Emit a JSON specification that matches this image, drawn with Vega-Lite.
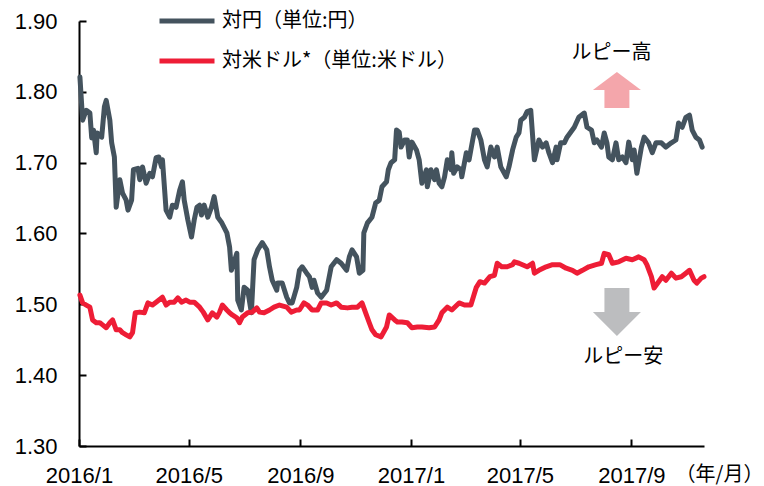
{
  "$schema": "https://vega.github.io/schema/vega-lite/v6.json",
  "width": 625,
  "height": 425,
  "autosize": {"type": "none"},
  "padding": {"left": 79, "top": 21, "right": 60, "bottom": 40},
  "background": "white",
  "config": {
    "view": {"stroke": null},
    "axis": {
      "labelFont": "Liberation Sans",
      "labelFontSize": 22,
      "labelColor": "black",
      "domainColor": "black",
      "domainWidth": 2,
      "tickColor": "black",
      "tickWidth": 2,
      "tickSize": -7,
      "grid": false
    },
    "legend": {
      "orient": "none",
      "legendX": 78,
      "legendY": -30,
      "padding": 0,
      "symbolType": "stroke",
      "symbolSize": 3025,
      "symbolStrokeWidth": 5,
      "labelFont": "Noto Sans CJK JP",
      "labelFontSize": 20,
      "labelColor": "black",
      "labelLimit": 400,
      "labelOffset": 5,
      "rowPadding": -13
    }
  },
  "datasets": {
    "yen": [
      {"date": "2016-01-02", "value": 1.821}, {"date": "2016-01-05", "value": 1.760}, {"date": "2016-01-09", "value": 1.774}, {"date": "2016-01-13", "value": 1.770},
      {"date": "2016-01-15", "value": 1.735}, {"date": "2016-01-17", "value": 1.746}, {"date": "2016-01-20", "value": 1.714}, {"date": "2016-01-21", "value": 1.742},
      {"date": "2016-01-26", "value": 1.736}, {"date": "2016-01-27", "value": 1.750}, {"date": "2016-01-29", "value": 1.779}, {"date": "2016-01-31", "value": 1.788},
      {"date": "2016-02-04", "value": 1.760}, {"date": "2016-02-06", "value": 1.728}, {"date": "2016-02-09", "value": 1.708}, {"date": "2016-02-11", "value": 1.637},
      {"date": "2016-02-15", "value": 1.676}, {"date": "2016-02-18", "value": 1.657}, {"date": "2016-02-22", "value": 1.647}, {"date": "2016-02-24", "value": 1.633},
      {"date": "2016-02-28", "value": 1.647}, {"date": "2016-03-01", "value": 1.690}, {"date": "2016-03-06", "value": 1.692}, {"date": "2016-03-08", "value": 1.676},
      {"date": "2016-03-11", "value": 1.694}, {"date": "2016-03-15", "value": 1.671}, {"date": "2016-03-19", "value": 1.685}, {"date": "2016-03-22", "value": 1.680},
      {"date": "2016-03-26", "value": 1.707}, {"date": "2016-03-29", "value": 1.708}, {"date": "2016-04-01", "value": 1.694}, {"date": "2016-04-02", "value": 1.704},
      {"date": "2016-04-06", "value": 1.633}, {"date": "2016-04-10", "value": 1.623}, {"date": "2016-04-13", "value": 1.640}, {"date": "2016-04-17", "value": 1.637},
      {"date": "2016-04-21", "value": 1.661}, {"date": "2016-04-24", "value": 1.673}, {"date": "2016-04-26", "value": 1.647}, {"date": "2016-04-30", "value": 1.619},
      {"date": "2016-05-04", "value": 1.595}, {"date": "2016-05-07", "value": 1.619}, {"date": "2016-05-10", "value": 1.637}, {"date": "2016-05-13", "value": 1.640},
      {"date": "2016-05-15", "value": 1.626}, {"date": "2016-05-18", "value": 1.640}, {"date": "2016-05-22", "value": 1.623}, {"date": "2016-05-26", "value": 1.637},
      {"date": "2016-05-29", "value": 1.652}, {"date": "2016-06-02", "value": 1.623}, {"date": "2016-06-06", "value": 1.616}, {"date": "2016-06-12", "value": 1.601},
      {"date": "2016-06-15", "value": 1.581}, {"date": "2016-06-17", "value": 1.548}, {"date": "2016-06-23", "value": 1.572}, {"date": "2016-06-24", "value": 1.506},
      {"date": "2016-06-28", "value": 1.492}, {"date": "2016-07-01", "value": 1.524}, {"date": "2016-07-05", "value": 1.520}, {"date": "2016-07-09", "value": 1.488},
      {"date": "2016-07-12", "value": 1.563}, {"date": "2016-07-16", "value": 1.577}, {"date": "2016-07-21", "value": 1.587}, {"date": "2016-07-26", "value": 1.577},
      {"date": "2016-07-29", "value": 1.553}, {"date": "2016-08-01", "value": 1.534}, {"date": "2016-08-06", "value": 1.520}, {"date": "2016-08-07", "value": 1.530},
      {"date": "2016-08-12", "value": 1.530}, {"date": "2016-08-17", "value": 1.510}, {"date": "2016-08-20", "value": 1.502}, {"date": "2016-08-23", "value": 1.502},
      {"date": "2016-08-28", "value": 1.524}, {"date": "2016-08-31", "value": 1.548}, {"date": "2016-09-03", "value": 1.553}, {"date": "2016-09-08", "value": 1.544},
      {"date": "2016-09-11", "value": 1.539}, {"date": "2016-09-14", "value": 1.524}, {"date": "2016-09-16", "value": 1.534}, {"date": "2016-09-20", "value": 1.516},
      {"date": "2016-09-24", "value": 1.510}, {"date": "2016-09-30", "value": 1.520}, {"date": "2016-10-05", "value": 1.553}, {"date": "2016-10-11", "value": 1.563},
      {"date": "2016-10-16", "value": 1.558}, {"date": "2016-10-22", "value": 1.548}, {"date": "2016-10-25", "value": 1.567}, {"date": "2016-10-28", "value": 1.577},
      {"date": "2016-11-02", "value": 1.567}, {"date": "2016-11-05", "value": 1.544}, {"date": "2016-11-09", "value": 1.548}, {"date": "2016-11-10", "value": 1.601},
      {"date": "2016-11-14", "value": 1.615}, {"date": "2016-11-19", "value": 1.623}, {"date": "2016-11-23", "value": 1.643}, {"date": "2016-11-27", "value": 1.647},
      {"date": "2016-11-30", "value": 1.666}, {"date": "2016-12-05", "value": 1.673}, {"date": "2016-12-07", "value": 1.690}, {"date": "2016-12-10", "value": 1.700},
      {"date": "2016-12-14", "value": 1.704}, {"date": "2016-12-16", "value": 1.746}, {"date": "2016-12-19", "value": 1.743}, {"date": "2016-12-21", "value": 1.722},
      {"date": "2016-12-25", "value": 1.732}, {"date": "2016-12-28", "value": 1.732}, {"date": "2016-12-30", "value": 1.708}, {"date": "2017-01-02", "value": 1.729},
      {"date": "2017-01-07", "value": 1.718}, {"date": "2017-01-10", "value": 1.704}, {"date": "2017-01-13", "value": 1.671}, {"date": "2017-01-18", "value": 1.690},
      {"date": "2017-01-19", "value": 1.666}, {"date": "2017-01-23", "value": 1.690}, {"date": "2017-01-27", "value": 1.676}, {"date": "2017-01-29", "value": 1.690},
      {"date": "2017-02-01", "value": 1.671}, {"date": "2017-02-04", "value": 1.666}, {"date": "2017-02-07", "value": 1.680}, {"date": "2017-02-10", "value": 1.704},
      {"date": "2017-02-14", "value": 1.690}, {"date": "2017-02-15", "value": 1.714}, {"date": "2017-02-17", "value": 1.685}, {"date": "2017-02-21", "value": 1.694},
      {"date": "2017-02-25", "value": 1.690}, {"date": "2017-02-26", "value": 1.680}, {"date": "2017-03-03", "value": 1.714}, {"date": "2017-03-06", "value": 1.704},
      {"date": "2017-03-08", "value": 1.718}, {"date": "2017-03-12", "value": 1.746}, {"date": "2017-03-15", "value": 1.746}, {"date": "2017-03-19", "value": 1.732},
      {"date": "2017-03-23", "value": 1.704}, {"date": "2017-03-26", "value": 1.694}, {"date": "2017-03-30", "value": 1.722}, {"date": "2017-04-03", "value": 1.708},
      {"date": "2017-04-06", "value": 1.722}, {"date": "2017-04-10", "value": 1.694}, {"date": "2017-04-16", "value": 1.680}, {"date": "2017-04-19", "value": 1.694},
      {"date": "2017-04-23", "value": 1.718}, {"date": "2017-04-27", "value": 1.736}, {"date": "2017-04-30", "value": 1.742}, {"date": "2017-05-02", "value": 1.760},
      {"date": "2017-05-06", "value": 1.764}, {"date": "2017-05-09", "value": 1.772}, {"date": "2017-05-13", "value": 1.774}, {"date": "2017-05-17", "value": 1.704},
      {"date": "2017-05-22", "value": 1.732}, {"date": "2017-05-26", "value": 1.722}, {"date": "2017-05-30", "value": 1.728}, {"date": "2017-06-02", "value": 1.714},
      {"date": "2017-06-06", "value": 1.700}, {"date": "2017-06-10", "value": 1.722}, {"date": "2017-06-11", "value": 1.704}, {"date": "2017-06-15", "value": 1.728},
      {"date": "2017-06-19", "value": 1.728}, {"date": "2017-06-22", "value": 1.736}, {"date": "2017-06-26", "value": 1.743}, {"date": "2017-06-30", "value": 1.750},
      {"date": "2017-07-05", "value": 1.764}, {"date": "2017-07-11", "value": 1.770}, {"date": "2017-07-14", "value": 1.750}, {"date": "2017-07-19", "value": 1.746},
      {"date": "2017-07-22", "value": 1.728}, {"date": "2017-07-25", "value": 1.732}, {"date": "2017-07-30", "value": 1.722}, {"date": "2017-08-02", "value": 1.742},
      {"date": "2017-08-05", "value": 1.728}, {"date": "2017-08-07", "value": 1.708}, {"date": "2017-08-11", "value": 1.704}, {"date": "2017-08-15", "value": 1.728},
      {"date": "2017-08-18", "value": 1.704}, {"date": "2017-08-22", "value": 1.708}, {"date": "2017-08-26", "value": 1.700}, {"date": "2017-08-29", "value": 1.729},
      {"date": "2017-09-02", "value": 1.704}, {"date": "2017-09-04", "value": 1.718}, {"date": "2017-09-07", "value": 1.685}, {"date": "2017-09-12", "value": 1.722},
      {"date": "2017-09-15", "value": 1.736}, {"date": "2017-09-20", "value": 1.728}, {"date": "2017-09-24", "value": 1.714}, {"date": "2017-09-28", "value": 1.728},
      {"date": "2017-10-04", "value": 1.728}, {"date": "2017-10-09", "value": 1.722}, {"date": "2017-10-15", "value": 1.728}, {"date": "2017-10-20", "value": 1.732},
      {"date": "2017-10-23", "value": 1.756}, {"date": "2017-10-27", "value": 1.750}, {"date": "2017-10-31", "value": 1.764}, {"date": "2017-11-04", "value": 1.767},
      {"date": "2017-11-07", "value": 1.746}, {"date": "2017-11-11", "value": 1.736}, {"date": "2017-11-15", "value": 1.732}, {"date": "2017-11-18", "value": 1.722}
    ],
    "usd": [
      {"date": "2016-01-02", "value": 1.513}, {"date": "2016-01-05", "value": 1.502}, {"date": "2016-01-09", "value": 1.499}, {"date": "2016-01-13", "value": 1.496},
      {"date": "2016-01-16", "value": 1.478}, {"date": "2016-01-20", "value": 1.474}, {"date": "2016-01-24", "value": 1.474}, {"date": "2016-01-27", "value": 1.471},
      {"date": "2016-01-31", "value": 1.467}, {"date": "2016-02-04", "value": 1.474}, {"date": "2016-02-07", "value": 1.478}, {"date": "2016-02-11", "value": 1.464},
      {"date": "2016-02-15", "value": 1.464}, {"date": "2016-02-18", "value": 1.460}, {"date": "2016-02-22", "value": 1.457}, {"date": "2016-02-26", "value": 1.454},
      {"date": "2016-02-29", "value": 1.460}, {"date": "2016-03-03", "value": 1.488}, {"date": "2016-03-08", "value": 1.489}, {"date": "2016-03-13", "value": 1.488},
      {"date": "2016-03-17", "value": 1.502}, {"date": "2016-03-22", "value": 1.499}, {"date": "2016-03-26", "value": 1.503}, {"date": "2016-04-02", "value": 1.510},
      {"date": "2016-04-06", "value": 1.499}, {"date": "2016-04-10", "value": 1.503}, {"date": "2016-04-15", "value": 1.503}, {"date": "2016-04-19", "value": 1.509},
      {"date": "2016-04-23", "value": 1.503}, {"date": "2016-04-28", "value": 1.506}, {"date": "2016-05-02", "value": 1.503}, {"date": "2016-05-07", "value": 1.503},
      {"date": "2016-05-13", "value": 1.496}, {"date": "2016-05-17", "value": 1.489}, {"date": "2016-05-22", "value": 1.478}, {"date": "2016-05-27", "value": 1.488},
      {"date": "2016-06-01", "value": 1.482}, {"date": "2016-06-04", "value": 1.489}, {"date": "2016-06-07", "value": 1.499}, {"date": "2016-06-12", "value": 1.492},
      {"date": "2016-06-15", "value": 1.488}, {"date": "2016-06-18", "value": 1.485}, {"date": "2016-06-23", "value": 1.481}, {"date": "2016-06-26", "value": 1.474},
      {"date": "2016-06-29", "value": 1.482}, {"date": "2016-07-05", "value": 1.488}, {"date": "2016-07-10", "value": 1.489}, {"date": "2016-07-15", "value": 1.495},
      {"date": "2016-07-18", "value": 1.489}, {"date": "2016-07-23", "value": 1.488}, {"date": "2016-07-29", "value": 1.492}, {"date": "2016-08-03", "value": 1.496},
      {"date": "2016-08-09", "value": 1.499}, {"date": "2016-08-17", "value": 1.496}, {"date": "2016-08-22", "value": 1.489}, {"date": "2016-08-28", "value": 1.492},
      {"date": "2016-08-31", "value": 1.492}, {"date": "2016-09-05", "value": 1.502}, {"date": "2016-09-09", "value": 1.499}, {"date": "2016-09-14", "value": 1.492},
      {"date": "2016-09-20", "value": 1.492}, {"date": "2016-09-24", "value": 1.502}, {"date": "2016-09-30", "value": 1.502}, {"date": "2016-10-05", "value": 1.499},
      {"date": "2016-10-11", "value": 1.502}, {"date": "2016-10-16", "value": 1.496}, {"date": "2016-10-23", "value": 1.495}, {"date": "2016-10-28", "value": 1.496},
      {"date": "2016-11-03", "value": 1.496}, {"date": "2016-11-08", "value": 1.502}, {"date": "2016-11-12", "value": 1.488}, {"date": "2016-11-16", "value": 1.474},
      {"date": "2016-11-19", "value": 1.464}, {"date": "2016-11-23", "value": 1.457}, {"date": "2016-11-29", "value": 1.454}, {"date": "2016-12-05", "value": 1.468},
      {"date": "2016-12-08", "value": 1.485}, {"date": "2016-12-14", "value": 1.478}, {"date": "2016-12-17", "value": 1.475}, {"date": "2016-12-22", "value": 1.475},
      {"date": "2016-12-28", "value": 1.474}, {"date": "2017-01-02", "value": 1.467}, {"date": "2017-01-08", "value": 1.468}, {"date": "2017-01-13", "value": 1.468},
      {"date": "2017-01-21", "value": 1.467}, {"date": "2017-01-27", "value": 1.468}, {"date": "2017-02-01", "value": 1.478}, {"date": "2017-02-04", "value": 1.488},
      {"date": "2017-02-10", "value": 1.496}, {"date": "2017-02-15", "value": 1.492}, {"date": "2017-02-23", "value": 1.502}, {"date": "2017-03-01", "value": 1.499},
      {"date": "2017-03-08", "value": 1.499}, {"date": "2017-03-14", "value": 1.524}, {"date": "2017-03-18", "value": 1.532}, {"date": "2017-03-23", "value": 1.530},
      {"date": "2017-03-29", "value": 1.539}, {"date": "2017-04-03", "value": 1.541}, {"date": "2017-04-06", "value": 1.558}, {"date": "2017-04-11", "value": 1.553},
      {"date": "2017-04-17", "value": 1.553}, {"date": "2017-04-23", "value": 1.556}, {"date": "2017-04-25", "value": 1.560}, {"date": "2017-04-30", "value": 1.558},
      {"date": "2017-05-09", "value": 1.553}, {"date": "2017-05-15", "value": 1.558}, {"date": "2017-05-17", "value": 1.544}, {"date": "2017-05-22", "value": 1.548},
      {"date": "2017-05-30", "value": 1.553}, {"date": "2017-06-06", "value": 1.556}, {"date": "2017-06-14", "value": 1.556}, {"date": "2017-06-21", "value": 1.551},
      {"date": "2017-06-28", "value": 1.548}, {"date": "2017-07-03", "value": 1.544}, {"date": "2017-07-09", "value": 1.548}, {"date": "2017-07-16", "value": 1.553},
      {"date": "2017-07-24", "value": 1.556}, {"date": "2017-07-30", "value": 1.558}, {"date": "2017-08-02", "value": 1.572}, {"date": "2017-08-07", "value": 1.570},
      {"date": "2017-08-11", "value": 1.558}, {"date": "2017-08-18", "value": 1.560}, {"date": "2017-08-26", "value": 1.565}, {"date": "2017-09-02", "value": 1.563},
      {"date": "2017-09-09", "value": 1.567}, {"date": "2017-09-15", "value": 1.563}, {"date": "2017-09-18", "value": 1.556}, {"date": "2017-09-23", "value": 1.539},
      {"date": "2017-09-26", "value": 1.523}, {"date": "2017-09-30", "value": 1.530}, {"date": "2017-10-05", "value": 1.539}, {"date": "2017-10-09", "value": 1.534},
      {"date": "2017-10-15", "value": 1.544}, {"date": "2017-10-20", "value": 1.537}, {"date": "2017-10-26", "value": 1.539}, {"date": "2017-10-31", "value": 1.544},
      {"date": "2017-11-04", "value": 1.548}, {"date": "2017-11-09", "value": 1.534}, {"date": "2017-11-12", "value": 1.530}, {"date": "2017-11-17", "value": 1.537},
      {"date": "2017-11-20", "value": 1.539}
    ]
  },
  "layer": [
    {
      "data": {"name": "yen"},
      "mark": {"type": "line", "strokeWidth": 5, "strokeJoin": "round", "strokeCap": "round"},
      "encoding": {
        "x": {
          "field": "date", "type": "temporal",
          "scale": {"type": "utc", "domain": [{"year": 2016, "month": 1, "date": 1, "utc": true}, {"year": 2017, "month": 11, "date": 20, "utc": true}]},
          "axis": {
            "values": [
              {"year": 2016, "month": 1, "date": 1, "utc": true},
              {"year": 2016, "month": 5, "date": 1, "utc": true},
              {"year": 2016, "month": 9, "date": 1, "utc": true},
              {"year": 2017, "month": 1, "date": 1, "utc": true},
              {"year": 2017, "month": 5, "date": 1, "utc": true},
              {"year": 2017, "month": 9, "date": 1, "utc": true}
            ],
            "format": "%Y/%-m",
            "labelFlush": false,
            "labelPadding": 26,
            "title": "（年/月）",
            "titleFont": "Noto Sans CJK JP",
            "titleFontSize": 20,
            "titleFontWeight": "normal",
            "titleColor": "black",
            "titleAlign": "center",
            "titleBaseline": "middle",
            "titleX": 640,
            "titleY": 28
          }
        },
        "y": {
          "field": "value", "type": "quantitative",
          "scale": {"domain": [1.3, 1.9], "nice": false, "zero": false},
          "axis": {"values": [1.3, 1.4, 1.5, 1.6, 1.7, 1.8, 1.9], "format": ".2f", "labelPadding": 29, "title": null}
        },
        "color": {
          "datum": "対円（単位:円）",
          "type": "nominal",
          "scale": {"domain": ["対円（単位:円）", "対米ドル*（単位:米ドル）"], "range": ["#44535e", "#ee1d36"]},
          "legend": {"title": null}
        }
      }
    },
    {
      "data": {"name": "usd"},
      "mark": {"type": "line", "strokeWidth": 5, "strokeJoin": "round", "strokeCap": "round"},
      "encoding": {
        "x": {"field": "date", "type": "temporal", "scale": {"type": "utc"}},
        "y": {"field": "value", "type": "quantitative"},
        "color": {"datum": "対米ドル*（単位:米ドル）", "type": "nominal"}
      }
    },
    {
      "data": {"values": [{"date": "2017-08-16", "value": 1.8026}]},
      "mark": {"type": "point", "shape": "M0,-0.75L1,0L0.52,0L0.52,0.75L-0.52,0.75L-0.52,0L-1,0Z", "filled": true, "color": "#f4a6ab", "opacity": 1, "size": 2304, "strokeWidth": 0},
      "encoding": {
        "x": {"field": "date", "type": "temporal", "scale": {"type": "utc"}},
        "y": {"field": "value", "type": "quantitative"}
      }
    },
    {
      "data": {"values": [{"date": "2017-08-16", "value": 1.4892}]},
      "mark": {"type": "point", "shape": "M-0.52,-1L0.52,-1L0.52,0L1,0L0,1L-1,0L-0.52,0Z", "filled": true, "color": "#bcbdbf", "opacity": 1, "size": 2304, "strokeWidth": 0},
      "encoding": {
        "x": {"field": "date", "type": "temporal", "scale": {"type": "utc"}},
        "y": {"field": "value", "type": "quantitative"}
      }
    },
    {
      "data": {"values": [
        {"date": "2017-08-10", "value": 1.855, "label": "ルピー高"},
        {"date": "2017-08-23", "value": 1.4257, "label": "ルピー安"}
      ]},
      "mark": {"type": "text", "font": "Noto Sans CJK JP", "fontSize": 20, "color": "black", "align": "center", "baseline": "middle"},
      "encoding": {
        "x": {"field": "date", "type": "temporal", "scale": {"type": "utc"}},
        "y": {"field": "value", "type": "quantitative"},
        "text": {"field": "label", "type": "nominal"}
      }
    }
  ]
}
